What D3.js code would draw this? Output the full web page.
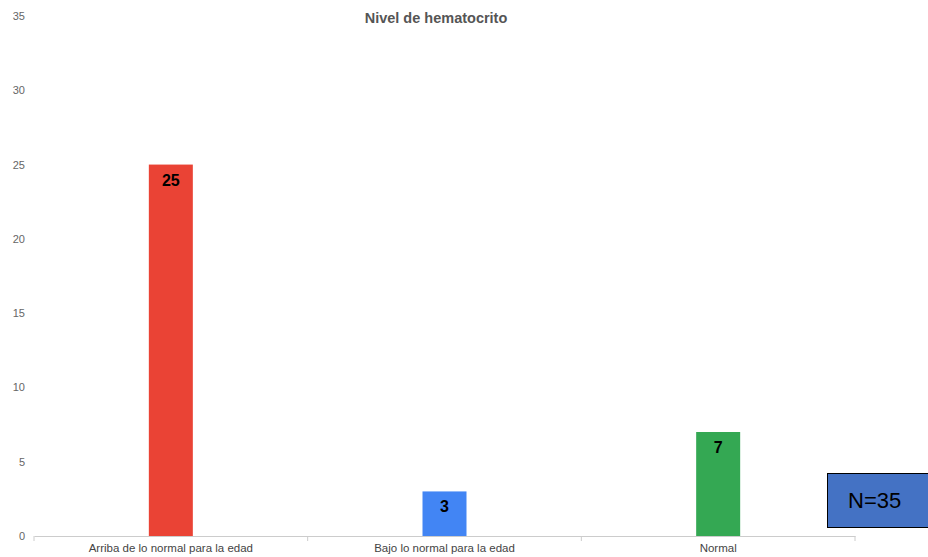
<!DOCTYPE html>
<html>
<head>
<meta charset="utf-8">
<script src="https://cdn.jsdelivr.net/npm/d3@7"></script>
<style>
  body { margin: 0; background: #fff; }
  svg { display: block; font-family: Arial, "Liberation Sans", sans-serif; }
</style>
</head>
<body>
<div id="chart"></div>
<script>
// categories and values
const categories = ["Arriba de lo normal para la edad", "Bajo lo normal para la edad", "Normal"];
const values = [25, 3, 7];
const colors = ["#EA4335", "#4285F4", "#34A853"];
const yTicks = [0, 5, 10, 15, 20, 25, 30, 35];

const w = 928, h = 557;
const margin = {top: 16, right: 73, bottom: 21, left: 34};

const svg = d3.select("#chart").append("svg")
  .attr("width", w)
  .attr("height", h);

const x = d3.scaleBand()
  .domain(categories)
  .range([margin.left, w - margin.right]);

const y = d3.scaleLinear()
  .domain([0, 35])
  .range([h - margin.bottom, margin.top]);

// title
svg.append("text")
  .attr("x", 436)
  .attr("y", 23)
  .attr("text-anchor", "middle")
  .attr("font-size", 14.5)
  .attr("font-weight", "bold")
  .attr("fill", "#555")
  .text("Nivel de hematocrito");

// y axis labels only, no line
const yAxis = svg.append("g")
  .attr("transform", `translate(${margin.left - 9},0)`)
  .call(d3.axisLeft(y).tickValues(yTicks).tickSize(0).tickPadding(0));
yAxis.select(".domain").remove();
yAxis.selectAll("text")
  .attr("font-size", 11)
  .attr("fill", "#666")
  .attr("font-family", "Arial, 'Liberation Sans', sans-serif");

// x axis
const xAxis = svg.append("g")
  .attr("transform", `translate(0,${y(0)})`)
  .call(d3.axisBottom(x).tickSize(0).tickPadding(8));
xAxis.select(".domain").attr("stroke", "#ccc");
xAxis.selectAll("text")
  .attr("font-size", 11.5)
  .attr("fill", "#444")
  .attr("font-family", "Arial, 'Liberation Sans', sans-serif");

// category separator ticks
const edges = categories.map(c => x(c)).concat([x.range()[1]]);
svg.selectAll("line.sep")
  .data(edges)
  .enter().append("line")
    .attr("class", "sep")
    .attr("x1", d => d).attr("x2", d => d)
    .attr("y1", y(0)).attr("y2", y(0) + 5)
    .attr("stroke", "#ccc");

// bars
const barW = 44;
svg.selectAll("rect.bar")
  .data(values)
  .enter().append("rect")
    .attr("class", "bar")
    .attr("x", (d, i) => x(categories[i]) + x.bandwidth() / 2 - barW / 2)
    .attr("y", d => y(d))
    .attr("width", barW)
    .attr("height", d => y(0) - y(d))
    .attr("fill", (d, i) => colors[i]);

// value labels inside top of bars
svg.selectAll("text.val")
  .data(values)
  .enter().append("text")
    .attr("class", "val")
    .attr("x", (d, i) => x(categories[i]) + x.bandwidth() / 2)
    .attr("y", d => y(d) + 21)
    .attr("text-anchor", "middle")
    .attr("font-size", 16)
    .attr("font-weight", "bold")
    .attr("fill", "#000")
    .text(d => d);

// N=35 box
svg.append("rect")
  .attr("x", 827.5)
  .attr("y", 473.5)
  .attr("width", 110)
  .attr("height", 54)
  .attr("fill", "#4472C4")
  .attr("stroke", "#000")
  .attr("stroke-width", 1);

svg.append("text")
  .attr("x", 848)
  .attr("y", 508)
  .attr("font-size", 22)
  .attr("fill", "#000")
  .text("N=" + d3.sum(values));
</script>
</body>
</html>
